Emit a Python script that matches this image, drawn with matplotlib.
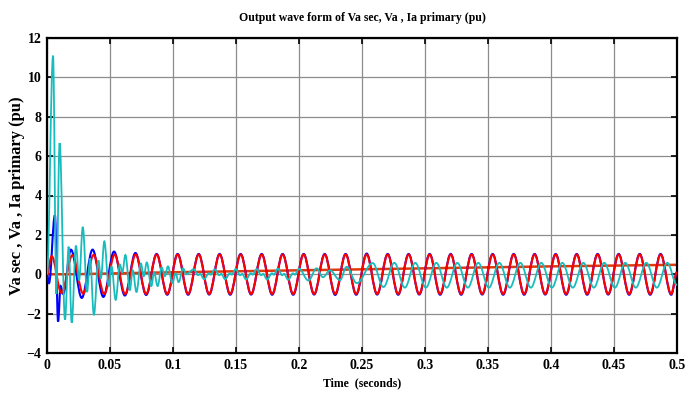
import matplotlib
matplotlib.use("Agg")
import matplotlib.pyplot as plt
from matplotlib.path import Path
from matplotlib.patches import PathPatch

# ---- data: extrema (time s, value pu) ----
red_t = [0.0, 0.0037, 0.0115, 0.0202, 0.0287, 0.0370, 0.0454, 0.0537, 0.0620,
         0.0704, 0.0787, 0.0870, 0.0954, 0.1037, 0.1120, 0.1204, 0.1287,
         0.1370, 0.1454, 0.1537, 0.1620, 0.1704, 0.1787, 0.1870, 0.1954,
         0.2037, 0.2120, 0.2204, 0.2287, 0.2370, 0.2454, 0.2537, 0.2620,
         0.2704, 0.2787, 0.2870, 0.2954, 0.3037, 0.3120, 0.3204, 0.3287,
         0.3370, 0.3454, 0.3537, 0.3620, 0.3704, 0.3787, 0.3870, 0.3954,
         0.4037, 0.4120, 0.4204, 0.4287, 0.4370, 0.4454, 0.4537, 0.4620,
         0.4704, 0.4787, 0.4870, 0.4954, 0.5000]
red_v = [0.0, 0.92, -0.95, 0.97, -0.98, 0.98, -1.0, 1.0, -1.0,
         1.0, -1.0, 1.0, -1.0, 1.0, -1.0, 1.0, -1.0,
         1.0, -1.0, 1.0, -1.0, 1.0, -1.0, 1.0, -1.0,
         1.0, -1.0, 1.0, -1.0, 1.0, -1.0, 1.0, -1.0,
         1.0, -1.0, 1.0, -1.0, 1.0, -1.0, 1.0, -1.0,
         1.0, -1.0, 1.0, -1.0, 1.0, -1.0, 1.0, -1.0,
         1.0, -1.0, 1.0, -1.0, 1.0, -1.0, 1.0, -1.0,
         1.0, -1.0, 1.0, -1.0, 0.1]

blue_t = [0.0, 0.0016, 0.0063, 0.0088, 0.0108, 0.0128, 0.0190, 0.0276,
          0.0362, 0.0447, 0.0532, 0.0618, 0.0702, 0.0787, 0.0870, 0.0954,
          0.1037, 0.1120, 0.1204, 0.1287, 0.1370, 0.1454, 0.1537, 0.1620,
          0.1704, 0.1787, 0.1870, 0.1954, 0.2037, 0.2120, 0.2204, 0.2287,
          0.2370, 0.2454, 0.2537, 0.2620, 0.2704, 0.2787, 0.2870, 0.2954,
          0.3037, 0.3120, 0.3204, 0.3287, 0.3370, 0.3454, 0.3537, 0.3620,
          0.3704, 0.3787, 0.3870, 0.3954, 0.4037, 0.4120, 0.4204, 0.4287,
          0.4370, 0.4454, 0.4537, 0.4620, 0.4704, 0.4787, 0.4870, 0.4954,
          0.5000]
blue_v = [0.0, -0.45, 3.0, -2.4, -0.6, -1.0, 1.25, -1.2,
          1.25, -1.15, 1.15, -1.08, 1.08, -1.05, 1.03, -1.04,
          1.03, -1.04, 1.03, -1.03, 1.03, -1.04, 1.03, -1.03,
          1.03, -1.04, 1.03, -1.04, 1.03, -1.03, 1.03, -1.05,
          1.03, -1.04, 1.05, -1.03, 1.03, -1.04, 1.03, -1.03,
          1.03, -1.04, 1.03, -1.04, 1.03, -1.03, 1.03, -1.04,
          1.03, -1.04, 1.03, -1.03, 1.03, -1.04, 1.03, -1.04,
          1.03, -1.03, 1.03, -1.04, 1.03, -1.04, 1.03, -1.04,
          0.1]

cyan_t = [0.0, 0.0048, 0.0074, 0.0100, 0.0143, 0.0172, 0.0196, 0.0230,
          0.0255, 0.0284, 0.0318, 0.0342, 0.0372, 0.0408, 0.0428, 0.0455,
          0.0490, 0.0512, 0.0545, 0.0578, 0.0598, 0.0622, 0.0658, 0.0680,
          0.0710, 0.0745, 0.0768, 0.0792, 0.0828, 0.0850, 0.0878, 0.0910,
          0.0935, 0.0960, 0.0995, 0.1020, 0.1045, 0.1080, 0.1105, 0.1164,
          0.1200, 0.1215, 0.1247, 0.1285, 0.1300, 0.1331, 0.1367, 0.1382,
          0.1414, 0.1452, 0.1467, 0.1497, 0.1533, 0.1548, 0.1580, 0.1618,
          0.1633, 0.1664, 0.1700, 0.1715, 0.1747, 0.1785, 0.1800, 0.1831,
          0.1867, 0.1882, 0.1914, 0.1952, 0.1967, 0.2000, 0.2075, 0.2140,
          0.2190, 0.2246, 0.2325, 0.2378, 0.2458, 0.2585, 0.2670, 0.2757,
          0.2840, 0.2923, 0.3007, 0.3090, 0.3173, 0.3257, 0.3340, 0.3423,
          0.3507, 0.3590, 0.3673, 0.3757, 0.3840, 0.3923, 0.4007, 0.4090,
          0.4173, 0.4257, 0.4340, 0.4423, 0.4507, 0.4590, 0.4673, 0.4757,
          0.4840, 0.4923, 0.5000]
cyan_v = [0.0, 11.1, -1.0, 6.66, -2.3, 1.4, -2.46, 1.45,
          -0.3, 2.4, -0.9, 0.8, -2.07, 0.7, -0.2, 1.67,
          -0.6, 0.4, -1.3, 0.5, 0.1, 0.98, -0.8, 0.2,
          -0.9, 0.55, -0.1, 0.6, -0.6, 0.1, -0.6, 0.35,
          -0.1, 0.4, -0.45, 0.05, -0.4, 0.3, 0.0, 0.25,
          -0.05, 0.02, -0.25, 0.05, -0.02, 0.25, -0.05, 0.02,
          -0.25, 0.05, -0.02, 0.26, -0.05, 0.02, -0.26, 0.05,
          -0.02, 0.26, -0.05, 0.02, -0.27, 0.05, -0.02, 0.28,
          -0.05, 0.02, -0.28, 0.05, -0.02, 0.28, -0.32, 0.30,
          -0.15, 0.20, -0.30, 0.38, -0.45, 0.57, -0.65, 0.58,
          -0.68, 0.58, -0.68, 0.58, -0.68, 0.58, -0.68, 0.58,
          -0.68, 0.58, -0.68, 0.58, -0.68, 0.58, -0.68, 0.58,
          -0.68, 0.58, -0.68, 0.58, -0.68, 0.58, -0.68, 0.58,
          -0.68, 0.58, -0.55]

# slow dc component (orange-red trace)
dc_t = [0.0, 0.02, 0.05, 0.10, 0.15, 0.20, 0.30, 0.40, 0.50]
dc_v = [0.0, 0.0, 0.04, 0.10, 0.15, 0.20, 0.30, 0.40, 0.48]

x_ticks = [0, 0.05, 0.1, 0.15, 0.2, 0.25, 0.3, 0.35, 0.4, 0.45, 0.5]
x_labels = ["0", "0.05", "0.1", "0.15", "0.2", "0.25", "0.3", "0.35",
            "0.4", "0.45", "0.5"]
y_ticks = [-4, -2, 0, 2, 4, 6, 8, 10, 12]


def wave_path(ts, vs, k=0.36):
    """Cubic curve through extrema with flat tangents (rendering only)."""
    verts = [(ts[0], vs[0])]
    codes = [Path.MOVETO]
    for i in range(1, len(ts)):
        dt = ts[i] - ts[i - 1]
        verts += [(ts[i - 1] + k * dt, vs[i - 1]),
                  (ts[i] - k * dt, vs[i]), (ts[i], vs[i])]
        codes += [Path.CURVE4] * 3
    return Path(verts, codes)


plt.rcParams["font.family"] = "Liberation Serif"
plt.rcParams["font.weight"] = "bold"

fig = plt.figure(figsize=(6.96, 3.93), dpi=100)
ax = fig.add_axes([47 / 696, 1 - 353 / 393, 630 / 696, 315 / 393])

ax.plot(dc_t, dc_v, color="#dd3a10", lw=1.8, zorder=2)
for ts, vs, col, lw in [(blue_t, blue_v, "#0000ff", 1.5),
                        (red_t, red_v, "#ff0000", 1.5),
                        (cyan_t, cyan_v, "#19bcbc", 1.3)]:
    ax.add_patch(PathPatch(wave_path(ts, vs), fill=False, edgecolor=col,
                           lw=lw, zorder=3))

ax.set_xlim(0, 0.5)
ax.set_ylim(-4, 12)
ax.set_xticks(x_ticks)
ax.set_xticklabels(x_labels)
ax.set_yticks(y_ticks)
ax.grid(True, color="#8c8c8c", lw=0.9)
ax.set_axisbelow(True)
ax.tick_params(direction="in", top=True, right=True, length=4, width=1.2,
               labelsize=10, pad=4)
for sp in ax.spines.values():
    sp.set_linewidth(1.6)

ax.set_title("Output wave form of Va sec, Va , Ia primary (pu)",
             fontsize=8.5, fontweight="bold", pad=12)
ax.set_xlabel("Time  (seconds)", fontsize=8.5, fontweight="bold", labelpad=4)
ax.set_ylabel("Va sec , Va , Ia primary (pu)", fontsize=12,
              fontweight="bold", labelpad=1)

fig.savefig("out.png", dpi=100)
